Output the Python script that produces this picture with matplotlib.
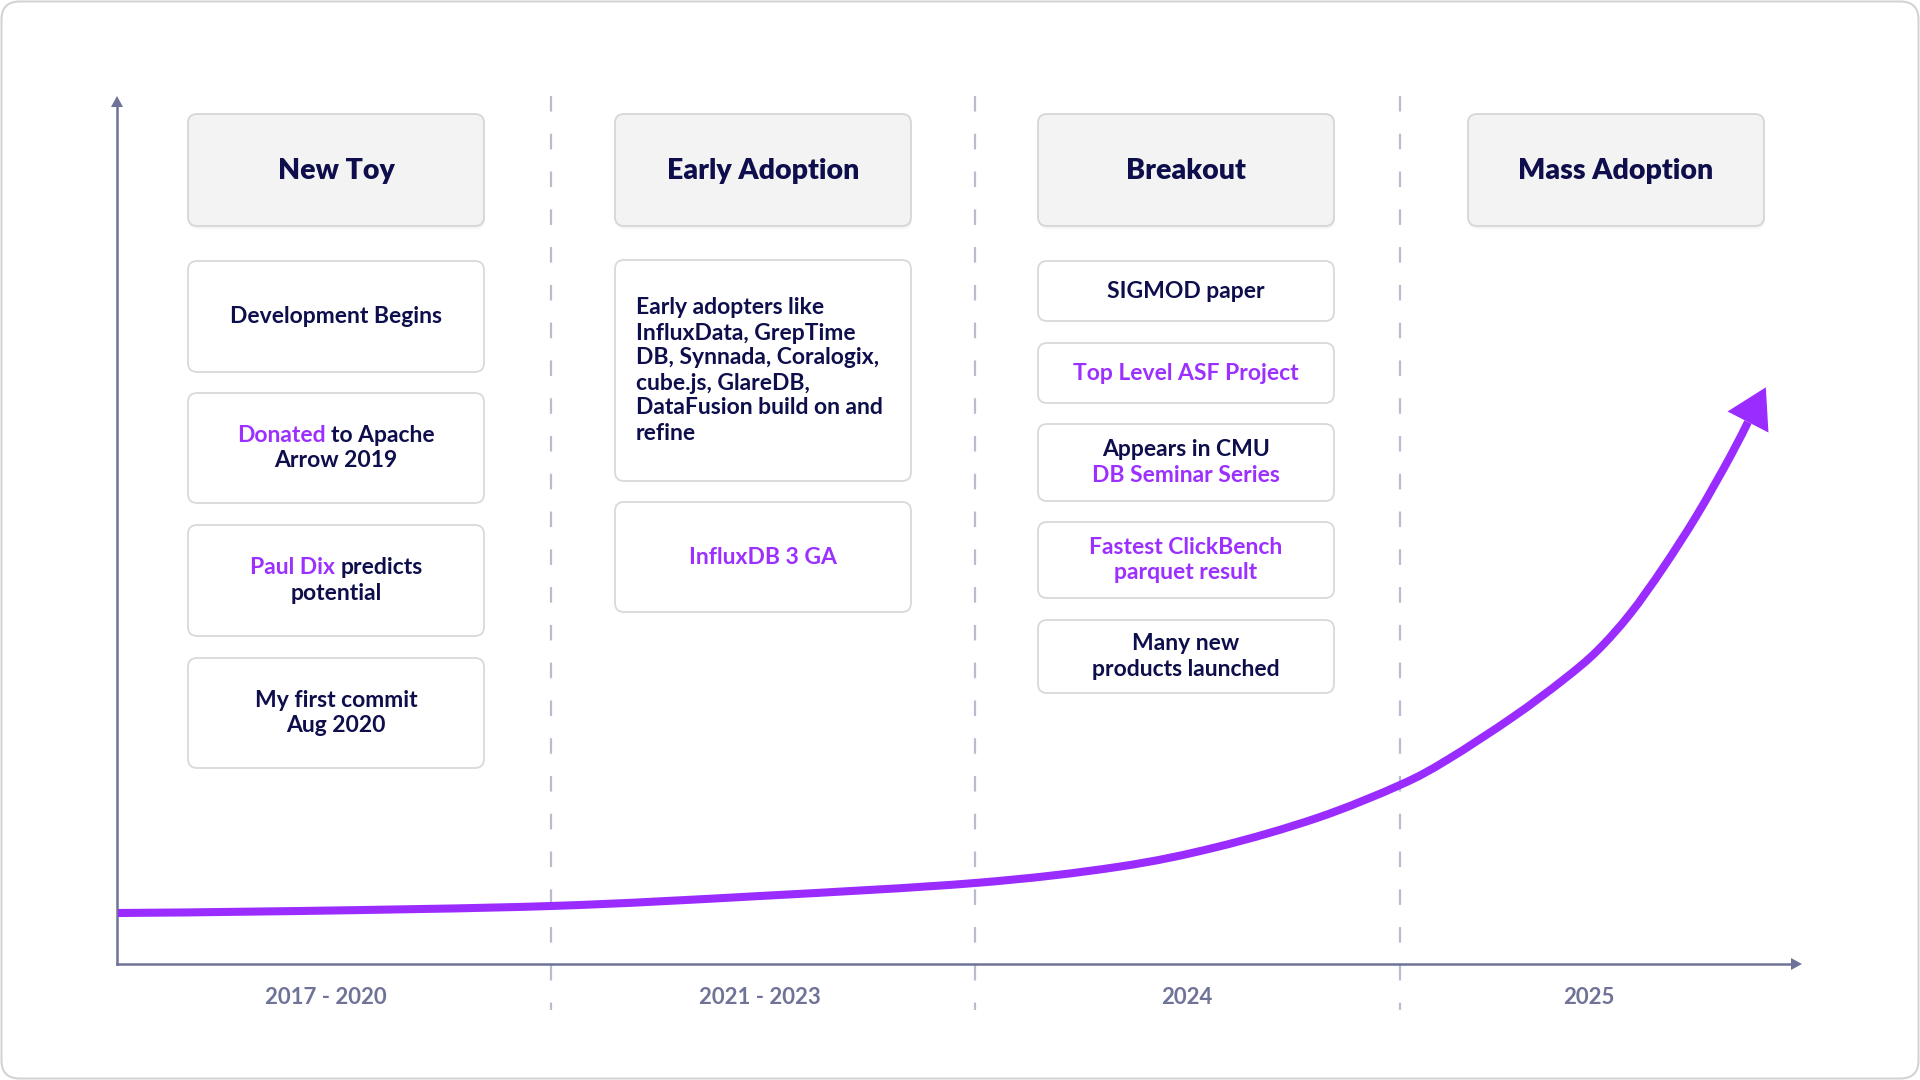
import numpy as np
import matplotlib
matplotlib.use("Agg")
import matplotlib.pyplot as plt
from matplotlib.patches import FancyBboxPatch, Polygon, PathPatch
from matplotlib.path import Path

plt.rcParams['font.family'] = ['Lato', 'DejaVu Sans']

# ---- data ----
phases = ["New Toy", "Early Adoption", "Breakout", "Mass Adoption"]
periods = ["2017 - 2020", "2021 - 2023", "2024", "2025"]

# each milestone is a list of lines, each line a list of (text, highlighted)
milestones = [
    [
        [[("Development Begins", False)]],
        [[("Donated", True), (" to Apache", False)], [("Arrow 2019", False)]],
        [[("Paul Dix", True), (" predicts", False)], [("potential", False)]],
        [[("My first commit", False)], [("Aug 2020", False)]],
    ],
    [
        [[("Early adopters like", False)], [("InfluxData, GrepTime", False)],
         [("DB, Synnada, Coralogix,", False)], [("cube.js, GlareDB,", False)],
         [("DataFusion build on and", False)], [("refine", False)]],
        [[("InfluxDB 3 GA", True)]],
    ],
    [
        [[("SIGMOD paper", False)]],
        [[("Top Level ASF Project", True)]],
        [[("Appears in CMU", False)], [("DB Seminar Series", True)]],
        [[("Fastest ClickBench", True)], [("parquet result", True)]],
        [[("Many new", False)], [("products launched", False)]],
    ],
    [],
]

# adoption curve (canvas pixels)
curve_x = [118, 300, 551, 760, 975, 1117, 1217, 1317, 1400, 1447, 1513,
           1563, 1597, 1630, 1663, 1697, 1730, 1748]
curve_y = [913, 911, 906, 896, 883, 867, 847, 818, 785, 760, 717,
           680, 651, 614, 568, 515, 457, 422]

# ---- layout ----
col_left = [188, 615, 1038, 1468]
col_w = 296
header_top, header_h = 114, 112
box_tops = [[261, 393, 525, 658], [260, 502], [261, 343, 424, 522, 620]]
box_bots = [[372, 503, 636, 768], [481, 612], [321, 403, 501, 598, 693]]
dividers = [551, 975, 1400]
period_x = [326, 760, 1187, 1589]
x0, y0 = 117, 964          # axis origin
x_end, y_end = 1802, 96    # axis arrow tips

navy = "#0d0e4b"
purple = "#9b2cff"
purple_txt = "#9c30ff"
axis_c = "#6f7398"
dash_c = "#b9bccf"
body_w = "bold"
body_size = 16.5

fig = plt.figure(figsize=(19.2, 10.8), dpi=100)
ax = fig.add_axes([0, 0, 1, 1])
ax.set_xlim(0, 1920)
ax.set_ylim(1080, 0)
ax.axis("off")
renderer = fig.canvas.get_renderer()

# outer card
ax.add_patch(FancyBboxPatch((1.5, 1.5), 1917, 1077,
                            boxstyle="round,pad=0,rounding_size=18",
                            fc="white", ec="#d3d3d3", lw=1.5, zorder=0))

# dashed dividers
for dx in dividers:
    ax.plot([dx, dx], [96, 1010], color=dash_c, lw=1.6,
            dashes=(7, 10), zorder=1)

# axes with arrows
ax.plot([x0, x0], [y0, y_end + 10], color=axis_c, lw=1.8, zorder=2)
ax.plot([x0, x_end - 10], [y0, y0], color=axis_c, lw=1.8, zorder=2)
ax.add_patch(Polygon([[x0, y_end], [x0 - 6, y_end + 11], [x0 + 6, y_end + 11]],
                     closed=True, fc=axis_c, ec="none", zorder=2))
ax.add_patch(Polygon([[x_end, y0], [x_end - 11, y0 - 6], [x_end - 11, y0 + 6]],
                     closed=True, fc=axis_c, ec="none", zorder=2))


def text_width(s, size, weight):
    t = ax.text(0, 0, s, fontsize=size, fontweight=weight)
    w = t.get_window_extent(renderer).width
    t.remove()
    return w


def draw_line(x, y, parts, size=body_size, weight=body_w, ha="center"):
    full = "".join(p[0] for p in parts)
    col = lambda h: purple_txt if h else navy
    if len(parts) == 1:
        ax.text(x, y, full, fontsize=size, fontweight=weight, color=col(parts[0][1]),
                ha=ha, va="center", zorder=5)
        return
    W = text_width(full, size, weight)
    left = x - W / 2 if ha == "center" else x
    ax.text(left, y, parts[0][0], fontsize=size, fontweight=weight,
            color=col(parts[0][1]), ha="left", va="center", zorder=5)
    ax.text(left + W, y, parts[1][0].strip(), fontsize=size, fontweight=weight,
            color=col(parts[1][1]), ha="right", va="center", zorder=5)


# headers
for i, name in enumerate(phases):
    L = col_left[i]
    ax.add_patch(FancyBboxPatch((L + 1, header_top + 3), col_w, header_h,
                                boxstyle="round,pad=0,rounding_size=9",
                                fc="#000000", ec="none", alpha=0.04, zorder=2))
    ax.add_patch(FancyBboxPatch((L, header_top), col_w, header_h,
                                boxstyle="round,pad=0,rounding_size=9",
                                fc="#f3f3f3", ec="#d6d6d6", lw=1.3, zorder=3))
    ax.text(L + col_w / 2, header_top + header_h / 2 + 1, name, fontsize=20.5,
            fontweight="heavy", color=navy, ha="center", va="center", zorder=5)

# milestone boxes
pitch = 25
for i, items in enumerate(milestones):
    L = col_left[i]
    for j, lines in enumerate(items):
        top, bot = box_tops[i][j], box_bots[i][j]
        ax.add_patch(FancyBboxPatch((L, top), col_w, bot - top,
                                    boxstyle="round,pad=0,rounding_size=9",
                                    fc="white", ec="#d9d9d9", lw=1.3, zorder=3))
        cy = (top + bot) / 2
        n = len(lines)
        left_align = n > 3
        for k, parts in enumerate(lines):
            ly = cy + (k - (n - 1) / 2) * pitch
            if left_align:
                draw_line(L + 21, ly, parts, ha="left")
            else:
                draw_line(L + col_w / 2, ly, parts)

# period labels
for px, lab in zip(period_x, periods):
    ax.text(px, 997, lab, fontsize=16, fontweight="bold", color=axis_c,
            ha="center", va="center")

# adoption curve: smooth Catmull-Rom path through the read points
P = np.column_stack([curve_x, curve_y]).astype(float)
verts, codes = [P[0]], [Path.MOVETO]
for k in range(len(P) - 1):
    p0 = P[max(k - 1, 0)]
    p1, p2 = P[k], P[k + 1]
    p3 = P[min(k + 2, len(P) - 1)]
    verts += [p1 + (p2 - p0) / 6, p2 - (p3 - p1) / 6, p2]
    codes += [Path.CURVE4] * 3
ax.add_patch(PathPatch(Path(verts, codes), fc="none", ec=purple, lw=5.8,
                       capstyle="butt", zorder=4))

d = P[-1] - P[-2]
d /= np.hypot(*d)
n_ = np.array([-d[1], d[0]])
base = P[-1]
tip = base + d * 39
ax.add_patch(Polygon([tip, base + n_ * 23, base - n_ * 23], closed=True,
                     fc=purple, ec="none", zorder=4))

fig.savefig("out.png", dpi=100, facecolor="white")
